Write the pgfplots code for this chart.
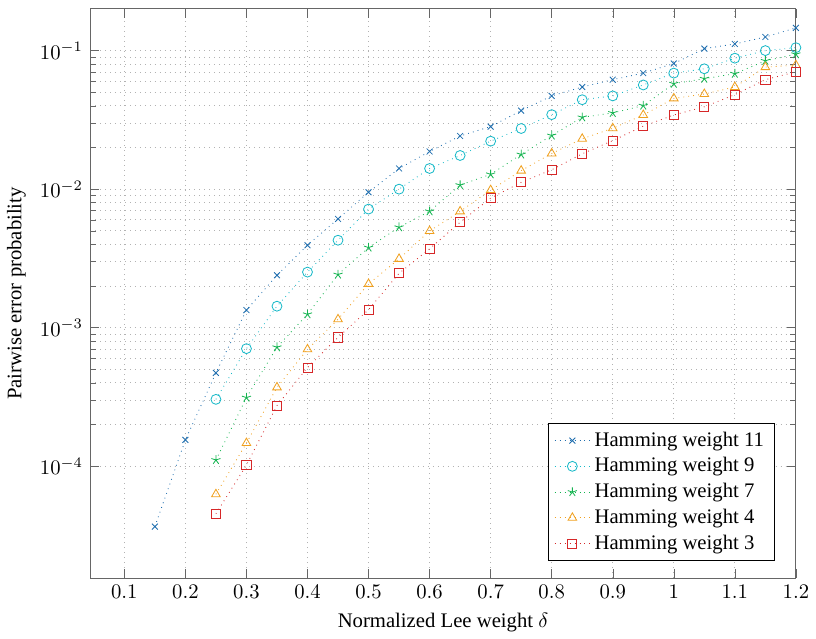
\documentclass[border=0pt]{standalone}
\usepackage{fontspec}
\setmainfont{Liberation Serif}
\usepackage{pgfplots}
\pgfplotsset{compat=1.18}

\definecolor{cA}{RGB}{31,110,175}
\definecolor{cB}{RGB}{23,185,200}
\definecolor{cC}{RGB}{20,180,80}
\definecolor{cD}{RGB}{240,160,30}
\definecolor{cE}{RGB}{214,39,40}

\begin{document}
\begin{tikzpicture}
\begin{axis}[
    scale only axis,
    width=341pt, height=275pt,
    ymode=log,
    xmin=0.044, xmax=1.2,
    ymin=1.56e-5, ymax=0.2,
    xtick={0.1,0.2,...,1.21},
    ytick={1e-4,1e-3,1e-2,1e-1},
    grid=both,
    major grid style={dotted, gray!60},
    minor grid style={dotted, gray!60},
    tick style={gray!80!black},
    axis line style={gray!80!black},
    xlabel={Normalized Lee weight $\delta$},
    ylabel={Pairwise error probability},
    legend pos=south east,
    legend cell align=left,
    every axis plot/.append style={dotted, thin},
]
\addplot[cA, mark=x, mark size=2pt, mark options={solid}] coordinates {
(0.15,3.67e-5) (0.2,1.55e-4) (0.25,4.72e-4) (0.3,1.34e-3) (0.35,2.39e-3)
(0.4,3.94e-3) (0.45,6.1e-3) (0.5,9.5e-3) (0.55,1.41e-2) (0.6,1.87e-2)
(0.65,2.42e-2) (0.7,2.83e-2) (0.75,3.69e-2) (0.8,4.71e-2) (0.85,5.46e-2)
(0.9,6.17e-2) (0.95,6.88e-2) (1.0,8.07e-2) (1.05,0.1033) (1.1,0.1117)
(1.15,0.1254) (1.2,0.146)
};
\addplot[cB, mark=o, mark size=2.4pt, mark options={solid}] coordinates {
(0.25,3.04e-4) (0.3,7.06e-4) (0.35,1.43e-3) (0.4,2.52e-3) (0.45,4.28e-3)
(0.5,7.18e-3) (0.55,1.0e-2) (0.6,1.41e-2) (0.65,1.75e-2) (0.7,2.22e-2)
(0.75,2.74e-2) (0.8,3.45e-2) (0.85,4.42e-2) (0.9,4.71e-2) (0.95,5.65e-2)
(1.0,6.88e-2) (1.05,7.39e-2) (1.1,8.82e-2) (1.15,0.1) (1.2,0.105)
};
\addplot[cC, mark=star, mark size=2.3pt, mark options={solid}] coordinates {
(0.25,1.11e-4) (0.3,3.13e-4) (0.35,7.23e-4) (0.4,1.25e-3) (0.45,2.42e-3)
(0.5,3.79e-3) (0.55,5.31e-3) (0.6,6.92e-3) (0.65,1.07e-2) (0.7,1.28e-2)
(0.75,1.78e-2) (0.8,2.44e-2) (0.85,3.30e-2) (0.9,3.55e-2) (0.95,4.01e-2)
(1.0,5.77e-2) (1.05,6.27e-2) (1.1,6.81e-2) (1.15,8.44e-2) (1.2,9.42e-2)
};
\addplot[cD, mark=triangle, mark size=2.4pt, mark options={solid}] coordinates {
(0.25,6.28e-5) (0.3,1.47e-4) (0.35,3.71e-4) (0.4,6.98e-4) (0.45,1.15e-3)
(0.5,2.07e-3) (0.55,3.14e-3) (0.6,4.99e-3) (0.65,6.91e-3) (0.7,9.84e-3)
(0.75,1.36e-2) (0.8,1.81e-2) (0.85,2.31e-2) (0.9,2.75e-2) (0.95,3.43e-2)
(1.0,4.52e-2) (1.05,4.86e-2) (1.1,5.46e-2) (1.15,7.60e-2) (1.2,7.86e-2)
};
\addplot[cE, mark=square, mark size=2.2pt, mark options={solid}] coordinates {
(0.25,4.54e-5) (0.3,1.02e-4) (0.35,2.74e-4) (0.4,5.16e-4) (0.45,8.51e-4)
(0.5,1.35e-3) (0.55,2.47e-3) (0.6,3.71e-3) (0.65,5.77e-3) (0.7,8.61e-3)
(0.75,1.12e-2) (0.8,1.38e-2) (0.85,1.80e-2) (0.9,2.24e-2) (0.95,2.85e-2)
(1.0,3.43e-2) (1.05,3.93e-2) (1.1,4.81e-2) (1.15,6.17e-2) (1.2,7.03e-2)
};
\legend{Hamming weight 11,Hamming weight 9,Hamming weight 7,Hamming weight 4,Hamming weight 3}
\end{axis}
\path ([yshift=4.3pt]current axis.north);
\path ([xshift=7.5pt]current axis.east);
\end{tikzpicture}
\end{document}
